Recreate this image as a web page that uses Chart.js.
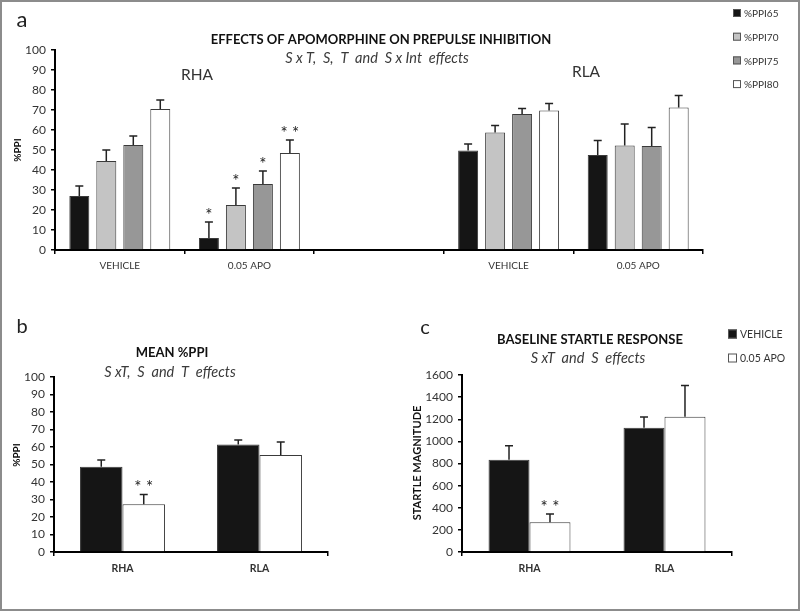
<!DOCTYPE html>
<html>
<head>
<meta charset="utf-8">
<script src="https://cdn.jsdelivr.net/npm/chart.js@4.4.1/dist/chart.umd.min.js"></script>
<style>
  html, body { margin: 0; padding: 0; background: #fff; }
  #fig { position: relative; width: 800px; height: 611px; overflow: hidden; }
  #fig canvas { position: absolute; left: 0; top: 0; }
  #frame { position: absolute; left: 0; top: 0; width: 800px; height: 611px; box-sizing: border-box; border: 2px solid #8c8c8c; pointer-events: none; }
</style>
</head>
<body>
<div id="fig">
  <canvas id="chartA" width="800" height="611"></canvas>
  <canvas id="chartB" width="800" height="611"></canvas>
  <canvas id="chartC" width="800" height="611"></canvas>
  <div id="frame"></div>
</div>
<script>
// ---- panel a: %PPI per prepulse intensity ----
const doseGroups = ['VEHICLE', '0.05 APO', '', 'VEHICLE', '0.05 APO'];
const ppi65 = [27, 6, null, 49.7, 47.5];
const ppi70 = [44.5, 22.5, null, 58.8, 52.3];
const ppi75 = [52.5, 33, null, 68, 52];
const ppi80 = [70.5, 48.5, null, 69.8, 71.2];
const ppi65Sem = [5, 8, null, 3.3, 7.2];
const ppi70Sem = [5.5, 8.5, null, 3.5, 10.7];
const ppi75Sem = [4.5, 6.5, null, 2.8, 9.3];
const ppi80Sem = [4.5, 6.5, null, 3.4, 6];
const ppi65Stars = ['', '*', '', '', ''];
const ppi70Stars = ['', '*', '', '', ''];
const ppi75Stars = ['', '*', '', '', ''];
const ppi80Stars = ['', '**', '', '', ''];

// ---- panel b: mean %PPI ----
const strains = ['RHA', 'RLA'];
const meanPpiVeh = [48.7, 61.4];
const meanPpiVehSem = [3.9, 2.6];
const meanPpiApo = [27.3, 55.4];
const meanPpiApoSem = [5.6, 7.5];
const meanPpiApoStars = ['**', ''];

// ---- panel c: baseline startle ----
const startleVeh = [834, 1124];
const startleVehSem = [127, 97];
const startleApo = [268, 1223];
const startleApoSem = [75, 281];
const startleApoStars = ['**', ''];

Chart.defaults.font.family = 'Lato, "Open Sans", sans-serif';
Chart.defaults.color = '#333';

const BLACK = '#151515', LIGHT = '#c4c4c4', MID = '#979797', WHITE = '#ffffff';

// error bars, stars, titles, legend
const decor = {
  id: 'decor',
  afterDatasetsDraw(chart, args, opts) {
    const ctx = chart.ctx;
    const y = chart.scales.y;
    ctx.save();
    chart.data.datasets.forEach((ds, i) => {
      const meta = chart.getDatasetMeta(i);
      meta.data.forEach((bar, j) => {
        const v = ds.data[j];
        if (v == null) return;
        const top = y.getPixelForValue(v + ds.sem[j]);
        ctx.strokeStyle = '#222';
        ctx.lineWidth = 1.5;
        ctx.beginPath();
        ctx.moveTo(bar.x, bar.y);
        ctx.lineTo(bar.x, top);
        ctx.moveTo(bar.x - 4, top);
        ctx.lineTo(bar.x + 4, top);
        ctx.stroke();
        if (ds.stars && ds.stars[j]) {
          ctx.fillStyle = '#222';
          ctx.font = '17px Lato';
          ctx.textAlign = 'center';
          ctx.textBaseline = 'alphabetic';
          ctx.fillText(ds.stars[j].split('').join(' '), bar.x, top - 1);
        }
      });
    });

    (opts.texts || []).forEach(t => {
      ctx.save();
      ctx.font = t.font;
      ctx.fillStyle = t.color || '#111';
      ctx.textAlign = t.align || 'center';
      ctx.textBaseline = 'middle';
      ctx.translate(t.x, t.y);
      if (t.rotate) ctx.rotate(t.rotate);
      ctx.fillText(t.text, 0, 0);
      ctx.restore();
    });

    const lg = opts.legend;
    if (lg) {
      chart.data.datasets.forEach((ds, i) => {
        const cy = lg.y + i * lg.dy;
        ctx.fillStyle = ds.backgroundColor;
        ctx.fillRect(lg.x, cy - lg.box / 2, lg.box, lg.box);
        ctx.strokeStyle = '#555';
        ctx.lineWidth = 1;
        ctx.strokeRect(lg.x + 0.5, cy - lg.box / 2 + 0.5, lg.box - 1, lg.box - 1);
        ctx.fillStyle = '#333';
        ctx.font = lg.font;
        ctx.textAlign = 'left';
        ctx.textBaseline = 'middle';
        ctx.fillText(ds.label, lg.x + lg.box + 3, cy + 1);
      });
    }
    ctx.restore();
  }
};

function barSet(label, data, sem, color, stars, catPct, barPct) {
  return {
    label, data, sem, stars,
    backgroundColor: color,
    borderColor: '#3a3a3a',
    borderWidth: 1,
    categoryPercentage: catPct,
    barPercentage: barPct
  };
}

function scalesFor(yMax, yStep, yWidth, xFont, hideMidTick) {
  return {
    x: {
      offset: true,
      grid: {
        offset: true,
        drawOnChartArea: false,
        drawTicks: true,
        tickLength: 4,
        lineWidth: 1.5,
        color: c => (hideMidTick && c.index > 0 && c.index < c.chart.data.labels.length) ? 'rgba(0,0,0,0)' : '#000'
      },
      border: { display: true, color: '#000', width: 2 },
      ticks: { font: xFont, color: '#333', padding: 6, maxRotation: 0, autoSkip: false },
      afterFit: s => { s.height = 30; }
    },
    y: {
      min: 0, max: yMax,
      grid: { drawOnChartArea: false, drawTicks: true, tickLength: 4, lineWidth: 1.5, color: '#000' },
      border: { display: true, color: '#000', width: 2 },
      ticks: { stepSize: yStep, font: { size: 12 }, color: '#333', padding: 5, callback: v => String(v) },
      afterFit: s => { s.width = yWidth; }
    }
  };
}

const noUi = { legend: { display: false }, tooltip: { enabled: false } };

// panel a
new Chart(document.getElementById('chartA'), {
  type: 'bar',
  data: {
    labels: doseGroups,
    datasets: [
      barSet('%PPI65', ppi65, ppi65Sem, BLACK, ppi65Stars, 0.833, 0.74),
      barSet('%PPI70', ppi70, ppi70Sem, LIGHT, ppi70Stars, 0.833, 0.74),
      barSet('%PPI75', ppi75, ppi75Sem, MID, ppi75Stars, 0.833, 0.74),
      barSet('%PPI80', ppi80, ppi80Sem, WHITE, ppi80Stars, 0.833, 0.74)
    ]
  },
  options: {
    responsive: false,
    animation: false,
    layout: { padding: { left: 0, top: 50, right: 97, bottom: 331 } },
    scales: scalesFor(100, 10, 55, { size: 10 }, false),
    plugins: {
      ...noUi,
      decor: {
        texts: [
          { text: 'a', x: 22, y: 20, font: '22px Lato', color: '#222' },
          { text: 'EFFECTS OF APOMORPHINE ON PREPULSE INHIBITION', x: 381, y: 40, font: 'bold 13px Lato' },
          { text: 'S x T,  S,  T  and  S x Int  effects', x: 377, y: 58, font: 'italic 14.5px Lato', color: '#3a3a3a' },
          { text: 'RHA', x: 197, y: 75, font: '15.5px Lato', color: '#333' },
          { text: 'RLA', x: 586, y: 72, font: '15.5px Lato', color: '#333' },
          { text: '%PPI', x: 18, y: 150, font: 'bold 10px Lato', rotate: -Math.PI / 2 }
        ],
        legend: { x: 733, y: 13, dy: 23.7, box: 8, font: '10px Lato' }
      }
    }
  },
  plugins: [decor]
});

// panel b
new Chart(document.getElementById('chartB'), {
  type: 'bar',
  data: {
    labels: strains,
    datasets: [
      barSet('VEHICLE', meanPpiVeh, meanPpiVehSem, BLACK, null, 0.62, 1.0),
      barSet('0.05 APO', meanPpiApo, meanPpiApoSem, WHITE, meanPpiApoStars, 0.62, 1.0)
    ]
  },
  options: {
    responsive: false,
    animation: false,
    layout: { padding: { left: 0, top: 377, right: 472, bottom: 29 } },
    scales: scalesFor(100, 10, 54, { size: 10.5, weight: 'bold' }, true),
    plugins: {
      ...noUi,
      decor: {
        texts: [
          { text: 'b', x: 22, y: 327, font: '20px Lato', color: '#222' },
          { text: 'MEAN %PPI', x: 172, y: 353, font: 'bold 13px Lato' },
          { text: 'S xT,  S  and  T  effects', x: 170, y: 372, font: 'italic 14.5px Lato', color: '#3a3a3a' },
          { text: '%PPI', x: 17, y: 455, font: 'bold 10px Lato', rotate: -Math.PI / 2 }
        ]
      }
    }
  },
  plugins: [decor]
});

// panel c
new Chart(document.getElementById('chartC'), {
  type: 'bar',
  data: {
    labels: strains,
    datasets: [
      barSet('VEHICLE', startleVeh, startleVehSem, BLACK, null, 0.607, 1.0),
      barSet('0.05 APO', startleApo, startleApoSem, WHITE, startleApoStars, 0.607, 1.0)
    ]
  },
  options: {
    responsive: false,
    animation: false,
    layout: { padding: { left: 410, top: 375, right: 68, bottom: 29 } },
    scales: scalesFor(1600, 200, 52, { size: 10.5, weight: 'bold' }, true),
    plugins: {
      ...noUi,
      decor: {
        texts: [
          { text: 'c', x: 425, y: 328, font: '20px Lato', color: '#222' },
          { text: 'BASELINE STARTLE RESPONSE', x: 590, y: 340, font: 'bold 13px Lato' },
          { text: 'S xT  and  S  effects', x: 588, y: 358, font: 'italic 14.5px Lato', color: '#3a3a3a' },
          { text: 'STARTLE MAGNITUDE', x: 417, y: 463, font: 'bold 11px Lato', rotate: -Math.PI / 2 }
        ],
        legend: { x: 728, y: 334, dy: 24, box: 9, font: '10.5px Lato' }
      }
    }
  },
  plugins: [decor]
});
</script>
</body>
</html>
